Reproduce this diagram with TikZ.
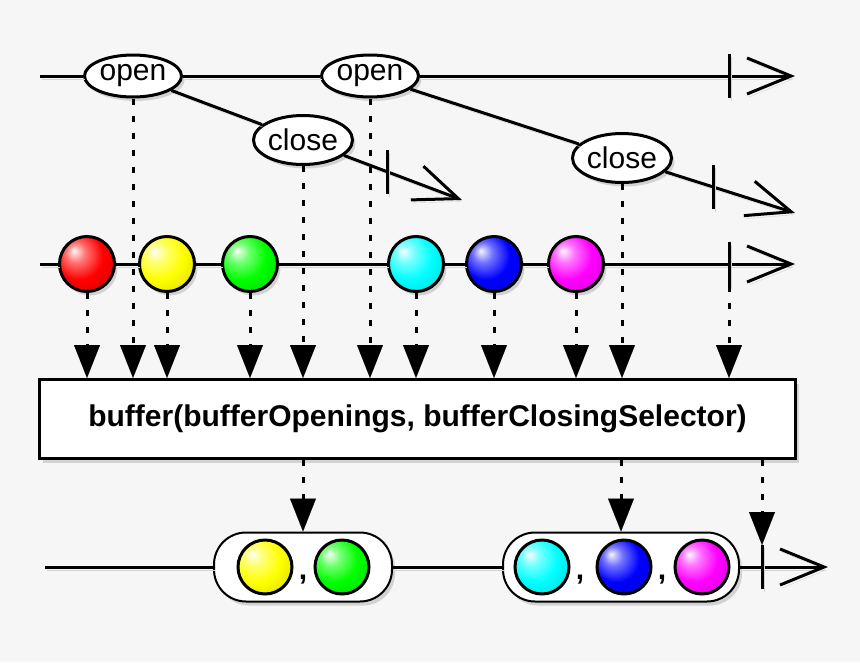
\documentclass[tikz,border=0pt]{standalone}
\usepackage{fontspec}
\setmainfont{Liberation Sans}
\usetikzlibrary{shapes,arrows.meta,shadows,calc}
\definecolor{bg}{RGB}{246,246,246}
\makeatletter
% brighter marbles than the default ball shading
\pgfdeclareradialshading[tikz@ball]{ball}{\pgfqpoint{-12bp}{12bp}}{color(0bp)=(tikz@ball!4!white); color(9bp)=(tikz@ball!55!white); color(22bp)=(tikz@ball); color(40bp)=(tikz@ball!85!black); color(62bp)=(tikz@ball!45!black)}
\makeatother

\begin{document}
\begin{tikzpicture}[x=1pt,y=-1pt,
		every node/.style={font=\fontsize{30}{36}\selectfont},
		shadowed/.style={drop shadow={opacity=0.3,shadow xshift=3pt,shadow yshift=-4pt}},
		lineshadow/.style={preaction={draw=black!17,transform canvas={shift={(2pt,-3pt)}}}},
		ev/.style={ellipse,draw,line width=3pt,fill=white,inner sep=0pt,minimum width=97pt,minimum height=#1,shadowed},
		marble/.style={circle,draw,line width=3pt,inner sep=0pt,minimum size=55pt,ball color=#1,shadowed},
		bmarble/.style={circle,draw,line width=3pt,inner sep=0pt,minimum size=54pt,ball color=#1},
		bubble/.style={rectangle,draw,line width=2pt,fill=white,rounded corners=32pt,minimum height=69pt,minimum width=#1,shadowed},
		opbox/.style={rectangle,draw,line width=3pt,fill=white,minimum width=756pt,minimum height=79pt,shadowed},
		stream/.style={line width=3pt,lineshadow,-{Straight Barb[length=44pt,width=36pt,line width=3pt]}},
		tick/.style={line width=3pt,lineshadow},
		dotarrow/.style={line width=3pt,dash pattern=on 6pt off 11pt,-{Triangle[length=33pt,width=26pt,line width=0.1pt]}}]
		\def\ytop{76}
		\def\ymar{264}
		\def\ybot{567}
		\def\th{22}
		\fill[bg] (0,0) rectangle (860,662);
		\useasboundingbox (0,0) rectangle (860,662);
		% openings and closings
		\node[ev=42pt] (open1) at (133,\ytop) {open};
		\node[ev=42pt] (open2) at (370,\ytop) {open};
		\node[ev=49pt] (close1) at (303,140) {close};
		\node[ev=49pt] (close2) at (622,158) {close};
		\coordinate (s1) at (40,\ytop);
		\coordinate (t1) at (729,\ytop);
		\coordinate (e1) at (795,\ytop);
		\coordinate (t2) at (387,172);
		\coordinate (e2) at (462,200);
		\coordinate (t3) at (713,187);
		\coordinate (e3) at (795,213);
		\draw[stream] (s1) -- (open1) -- (open2) -- (e1);
		\draw[stream] (open1) -- (close1) -- (e2);
		\draw[stream] (open2) -- (close2) -- (e3);
		\draw[tick] ($(t1)+(0,-\th)$) -- ($(t1)+(0,\th)$);
		\draw[tick] ($(t2)+(0,-\th)$) -- ($(t2)+(0,\th)$);
		\draw[tick] ($(t3)+(0,-\th)$) -- ($(t3)+(0,\th)$);
		% source marbles
		\node[marble=red] (m1) at (87,\ymar) {};
		\node[marble=yellow] (m2) at (167,\ymar) {};
		\node[marble=green] (m3) at (250,\ymar) {};
		\node[marble=cyan] (m4) at (416,\ymar) {};
		\node[marble=blue] (m5) at (494,\ymar) {};
		\node[marble=magenta] (m6) at (576,\ymar) {};
		\coordinate (s2) at (40,\ymar);
		\coordinate (t4) at (729,\ymar);
		\coordinate (e4) at (795,\ymar);
		\draw[stream] (s2) -- (m1) -- (m2) -- (m3) -- (m4) -- (m5) -- (m6) -- (e4);
		\draw[tick] ($(t4)+(0,-\th)$) -- ($(t4)+(0,\th)$);
		% operator
		\node[opbox] (buf) at (417.5,419) {\textbf{buffer(bufferOpenings, bufferClosingSelector)}};
		\foreach \n in {m1,m2,m3,m4,m5,m6,open1,open2,close1,close2}
			\draw[dotarrow] (\n.south) -- (\n.south |- buf.north);
		\draw[dotarrow] ($(t4)+(0,\th)$) -- (t4 |- buf.north);
		% result
		\node[bubble=178pt] (bub1) at (303,\ybot) {};
		\node[bubble=236pt] (bub2) at (621,\ybot) {};
		\node[bmarble=yellow] (r1) at (265,\ybot) {};
		\node[bmarble=green] (r2) at (342,\ybot) {};
		\node[anchor=base] (k1) at (303,579) {\textbf{,}};
		\node[bmarble=cyan] (r3) at (542,\ybot) {};
		\node[bmarble=blue] (r4) at (624,\ybot) {};
		\node[bmarble=magenta] (r5) at (702,\ybot) {};
		\node[anchor=base] (k2) at (580,579) {\textbf{,}};
		\node[anchor=base] (k3) at (662,579) {\textbf{,}};
		\coordinate (s3) at (45,\ybot);
		\coordinate (t5) at (762,\ybot);
		\coordinate (e5) at (828,\ybot);
		\draw[stream] (s3) -- (bub1) -- (bub2) -- (e5);
		\draw[tick] ($(t5)+(0,-\th)$) -- ($(t5)+(0,\th)$);
		\draw[dotarrow] (bub1.north |- buf.south) -- (bub1.north);
		\draw[dotarrow] (bub2.north |- buf.south) -- (bub2.north);
		\draw[dotarrow] (t5 |- buf.south) -- ($(t5)+(0,-\th)$);
\end{tikzpicture}
\end{document}
